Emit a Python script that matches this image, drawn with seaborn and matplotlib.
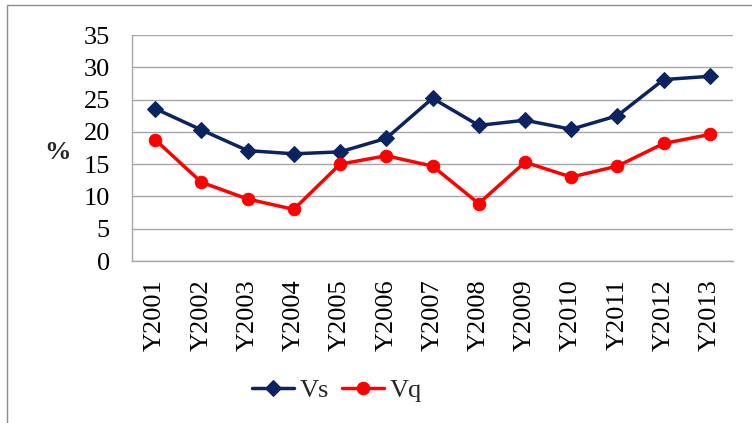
import matplotlib
matplotlib.use("Agg")
import matplotlib.pyplot as plt
import numpy as np
import pandas as pd
import seaborn as sns
from matplotlib.patches import Rectangle

YEARS = ["Y2001", "Y2002", "Y2003", "Y2004", "Y2005", "Y2006", "Y2007",
         "Y2008", "Y2009", "Y2010", "Y2011", "Y2012", "Y2013"]
VS = [23.6, 20.3, 17.1, 16.6, 16.9, 19.0, 25.2, 21.0, 21.8, 20.4, 22.5, 28.1, 28.6]
VQ = [18.8, 12.2, 9.6, 8.0, 15.0, 16.3, 14.7, 8.9, 15.3, 13.0, 14.7, 18.2, 19.6]
Y_TICKS = [0, 5, 10, 15, 20, 25, 30, 35]

NAVY = "#0b2461"
RED = "#ff0000"
GRID = "#a6a6a6"
FS = 19

sns.set_theme(style="white")
plt.rcParams["font.family"] = ["Liberation Serif", "DejaVu Serif"]

df = pd.DataFrame({"pos": np.arange(len(YEARS)), "Vs": VS, "Vq": VQ})

fig = plt.figure(figsize=(7.52, 4.23), dpi=100)
ax = fig.add_axes([132 / 752, 1 - 261 / 423, (733 - 132) / 752, (261 - 35) / 423])

sns.lineplot(data=df, x="pos", y="Vs", ax=ax, color=NAVY, linewidth=2.5,
             marker="D", markersize=8, markeredgecolor=NAVY, label="Vs")
sns.lineplot(data=df, x="pos", y="Vq", ax=ax, color=RED, linewidth=2.5,
             marker="o", markersize=9, markeredgecolor=RED, label="Vq")

ax.set_xlim(-0.5, len(YEARS) - 0.5)
ax.set_ylim(0, 35)
ax.set_yticks(Y_TICKS)
ax.set_xticks(np.arange(len(YEARS)))
ax.set_xticklabels(YEARS, rotation=90, fontsize=FS)
ax.set_xticks(np.arange(len(YEARS) + 1) - 0.5, minor=True)
ax.tick_params(axis="x", which="major", length=0, pad=13)
ax.tick_params(axis="x", which="minor", length=6, width=1, direction="out")
ax.tick_params(axis="y", length=6, width=1, direction="out", pad=10, labelsize=FS)
ax.tick_params(axis="both", which="both", color=GRID, labelcolor="black")
ax.yaxis.grid(True, color=GRID, linewidth=1)
ax.set_axisbelow(True)

for side in ["top", "right"]:
    ax.spines[side].set_visible(False)
for side in ["left", "bottom"]:
    ax.spines[side].set_color(GRID)
    ax.spines[side].set_linewidth(1)

ax.set_xlabel("")
ax.set_ylabel("")
fig.text(57 / 752, 1 - 152 / 423, "%", fontsize=FS, fontweight="bold",
         ha="center", va="center")

ax.legend(loc="center", bbox_to_anchor=(0.448, 0.078), bbox_transform=fig.transFigure,
          ncol=2, frameon=False, fontsize=FS, handlelength=1.6,
          columnspacing=0.5, handletextpad=0.2)

# outer chart border
fig.patches.append(Rectangle((7 / 752, -0.05), 1.2, 1 - 5 / 423 + 0.05,
                             transform=fig.transFigure, fill=False,
                             edgecolor="#8c8c8c", linewidth=1))

fig.savefig("out.png", dpi=100)
